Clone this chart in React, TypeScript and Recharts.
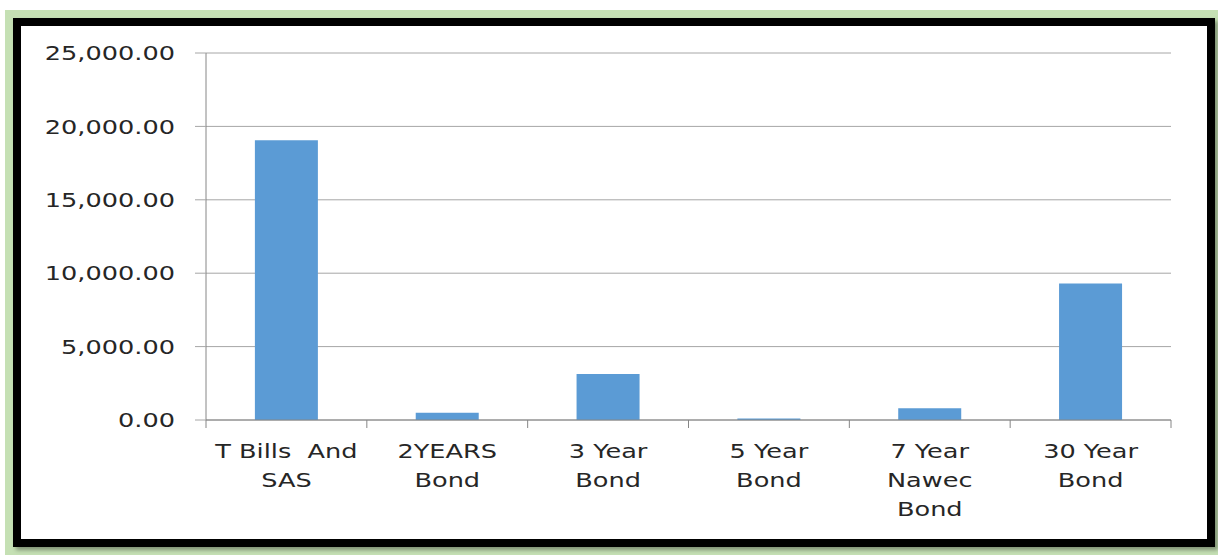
import { BarChart, Bar, XAxis, YAxis, CartesianGrid } from 'recharts';

const categories = ['T Bills  And\nSAS', '2YEARS\nBond', '3 Year\nBond', '5 Year\nBond', '7 Year\nNawec\nBond', '30 Year\nBond'];
const amounts = [19050, 500, 3130, 100, 800, 9300];
const yTicks = [0, 5000, 10000, 15000, 20000, 25000];

const data = categories.map((name, i) => ({ name, amount: amounts[i] }));

const FONT = '"DejaVu Sans", Verdana, sans-serif';
const TEXT = '#262626';
const STRETCH = 1.28;

const fmt = (v: number) =>
  v.toLocaleString('en-US', { minimumFractionDigits: 2, maximumFractionDigits: 2 });

function YTick(props: any) {
  const { x, y, payload } = props;
  return (
    <g transform={`translate(${x},${y}) scale(${STRETCH},1)`}>
      <text x={0} y={0} dy="0.36em" textAnchor="end" fill={TEXT} style={{ fontFamily: FONT, fontSize: 20 }}>
        {fmt(payload.value)}
      </text>
    </g>
  );
}

function XTick(props: any) {
  const { x, y, payload, index, visibleTicksCount } = props;
  const half = payload.offset ?? 80;
  const lines: string[] = String(payload.value).split('\n');
  const isLast = index === visibleTicksCount - 1;
  return (
    <g>
      <line x1={x - half} x2={x - half} y1={y} y2={y + 8} stroke="#868686" />
      {isLast && <line x1={x + half} x2={x + half} y1={y} y2={y + 8} stroke="#868686" />}
      <g transform={`translate(${x},${y + 38}) scale(${STRETCH},1)`}>
        <text
          x={0}
          y={0}
          textAnchor="middle"
          fill={TEXT}
          style={{ fontFamily: FONT, fontSize: 20, whiteSpace: 'pre' }}
        >
          {lines.map((l, i) => (
            <tspan key={i} x={0} dy={i === 0 ? 0 : 29}>
              {l}
            </tspan>
          ))}
        </text>
      </g>
    </g>
  );
}

export default function App() {
  return (
    <div style={{ position: 'absolute', left: 0, top: 0, width: 1218, height: 556, background: '#fff' }}>
      <div style={{ position: 'absolute', left: 5, top: 10, width: 1213, height: 545, background: '#c5e0b4' }} />
      <div
        style={{
          position: 'absolute',
          left: 13,
          top: 18,
          width: 1202,
          height: 529,
          boxSizing: 'border-box',
          border: '8px solid #000',
          background: '#fff',
          boxShadow: '3px 3px 4px rgba(0,0,0,0.35)',
        }}
      >
        <BarChart
          width={1186}
          height={513}
          data={data}
          margin={{ top: 27, right: 36, left: 0, bottom: 0 }}
          barCategoryGap="30.4%"
        >
          <CartesianGrid vertical={false} stroke="#a6a6a6" />
          <XAxis
            dataKey="name"
            interval={0}
            height={119}
            stroke="#868686"
            tickLine={false}
            tickSize={0}
            tickMargin={0}
            tick={<XTick />}
          />
          <YAxis
            width={185}
            domain={[0, 25000]}
            ticks={yTicks}
            interval={0}
            stroke="#868686"
            tickSize={11}
            tickMargin={20}
            tickLine={{ stroke: '#a6a6a6' }}
            tick={<YTick />}
          />
          <Bar dataKey="amount" fill="#5b9bd5" isAnimationActive={false} />
        </BarChart>
      </div>
    </div>
  );
}
